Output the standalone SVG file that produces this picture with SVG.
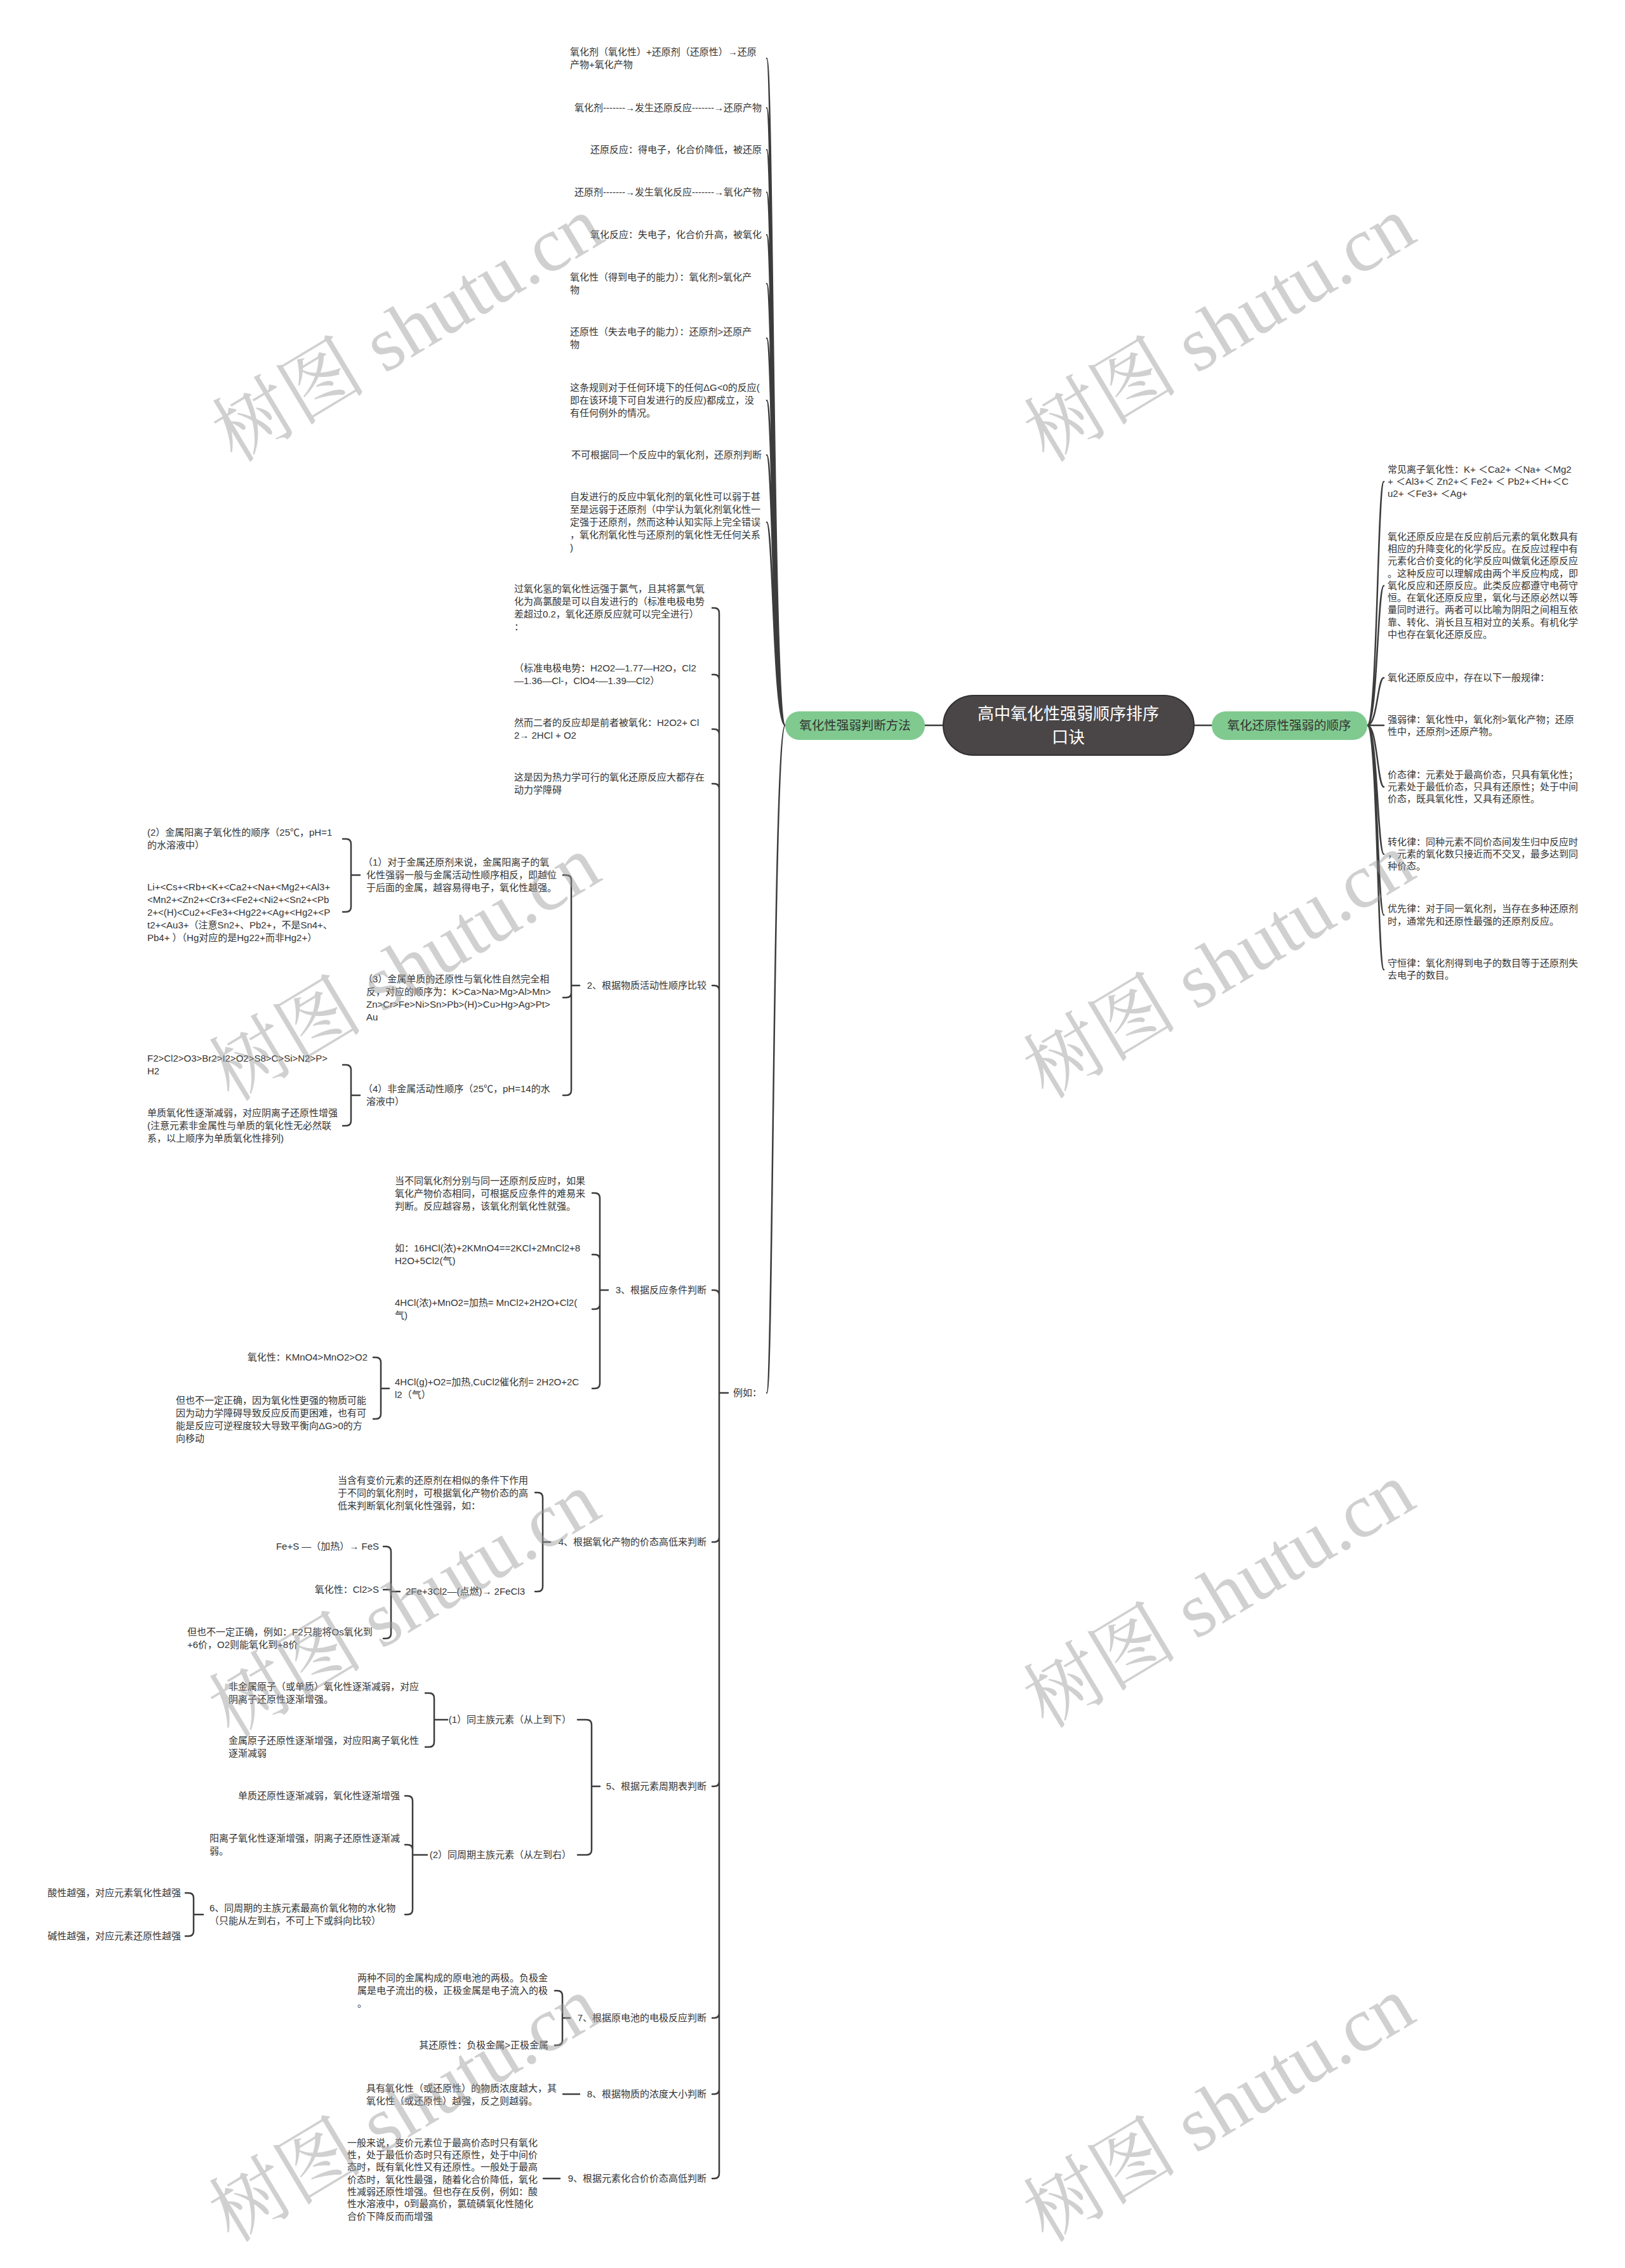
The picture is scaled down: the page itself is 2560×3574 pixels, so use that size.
<svg xmlns="http://www.w3.org/2000/svg" width="2560" height="3574" viewBox="0 0 2560 3574">
<style>
.t{font-family:"Liberation Sans","Noto Sans CJK SC",sans-serif;font-size:15px;fill:#333}
.e{text-anchor:end}
.c{fill:none;stroke:#3c3c3c;stroke-width:2.5;stroke-linecap:round}
.g{fill:#80ca90}
.gt{font-family:"Liberation Sans","Noto Sans CJK SC",sans-serif;font-size:19.5px;fill:#333;text-anchor:middle}
.wm{font-family:"Liberation Serif","Noto Serif CJK SC","Noto Sans CJK SC",serif;font-size:122px;fill:#999;opacity:0.45;text-anchor:middle}
</style>
<rect width="2560" height="3574" fill="#ffffff"/>
<g id="connectors">
<path class="c" d="M1457 1143H1486M1881 1143H1909"/>
<path class="c" d="M1237 1143C1218 1143 1218 92 1208 92M1237 1143C1218 1143 1218 170 1208 170M1237 1143C1218 1143 1218 236 1208 236M1237 1143C1218 1143 1218 303 1208 303M1237 1143C1218 1143 1218 370 1208 370M1237 1143C1218 1143 1218 447 1208 447M1237 1143C1218 1143 1218 533 1208 533M1237 1143C1218 1143 1218 631 1208 631M1237 1143C1218 1143 1218 717 1208 717M1237 1143C1218 1143 1218 823 1208 823M1237 1143C1218 1143 1218 2195 1208 2195"/>
<path class="c" d="M2154 1143C2170 1143 2170 759 2180 759M2154 1143C2170 1143 2170 923 2180 923M2154 1143C2170 1143 2170 1068 2180 1068M2154 1143H2180M2154 1143C2170 1143 2170 1240 2180 1240M2154 1143C2170 1143 2170 1346 2180 1346M2154 1143C2170 1143 2170 1442 2180 1442M2154 1143C2170 1143 2170 1528 2180 1528"/>
<path class="c" d="M1147 2195H1133V966Q1133 958 1125 958H1122M1133 1071Q1133 1063 1125 1063H1122M1133 1157Q1133 1149 1125 1149H1122M1133 1243Q1133 1235 1125 1235H1122M1133 1561Q1133 1553 1125 1553H1122M1133 2041Q1133 2033 1125 2033H1122M1133 2195V3425Q1133 3433 1125 3433H1122M1133 2422Q1133 2430 1125 2430H1122M1133 2807Q1133 2815 1125 2815H1122M1133 3172Q1133 3180 1125 3180H1122M1133 3292Q1133 3300 1125 3300H1122"/>
<path class="c" d="M913 1553H900V1387Q900 1379 892 1379H887M900 1553V1718Q900 1726 892 1726H887M900 1564Q900 1572 892 1572H887"/>
<path class="c" d="M567 1379H553V1330Q553 1322 545 1322H540M553 1379V1429Q553 1437 545 1437H540"/>
<path class="c" d="M567 1726H553V1686Q553 1678 545 1678H540M553 1726V1766Q553 1774 545 1774H540"/>
<path class="c" d="M958 2033H945V1888Q945 1880 937 1880H933M945 1985Q945 1977 937 1977H933M945 2033V2180Q945 2188 937 2188H933M945 2055Q945 2063 937 2063H933"/>
<path class="c" d="M613 2188H600V2147Q600 2139 592 2139H588M600 2188V2228Q600 2236 592 2236H588"/>
<path class="c" d="M867 2430H855V2360Q855 2352 847 2352H843M855 2430V2500Q855 2508 847 2508H843"/>
<path class="c" d="M630 2508H616V2445Q616 2437 608 2437H604M616 2505H604M616 2508V2574Q616 2582 608 2582H604"/>
<path class="c" d="M945 2815H932V2718Q932 2710 924 2710H910M932 2815V2915Q932 2923 924 2923H910"/>
<path class="c" d="M705 2710H684V2676Q684 2668 676 2668H670M684 2710V2745Q684 2753 676 2753H670"/>
<path class="c" d="M673 2923H650V2838Q650 2830 642 2830H638M650 2915Q650 2907 642 2907H638M650 2923V3009Q650 3017 642 3017H638"/>
<path class="c" d="M320 3017H305V2991Q305 2983 297 2983H292M305 3017V3043Q305 3051 297 3051H292"/>
<path class="c" d="M898 3180H886V3145Q886 3137 878 3137H874M886 3180V3215Q886 3223 878 3223H874"/>
<path class="c" d="M913 3300H887M882 3433H856"/>
</g>
<g id="root">
<rect x="1486" y="1096" width="395" height="94" rx="47" fill="#4a4647" stroke="#303030" stroke-width="2"/>
<text x="1683" y="1134" style="font-family:'Liberation Sans','Noto Sans CJK SC',sans-serif;font-size:26px;fill:#fff;text-anchor:middle">高中氧化性强弱顺序排序</text>
<text x="1683" y="1171" style="font-family:'Liberation Sans','Noto Sans CJK SC',sans-serif;font-size:26px;fill:#fff;text-anchor:middle">口诀</text>
</g>
<g id="left-main"><rect class="g" x="1237" y="1121" width="220" height="45" rx="22"/><text class="gt" x="1347" y="1150">氧化性强弱判断方法</text></g>
<g id="right-main"><rect class="g" x="1909" y="1121" width="245" height="45" rx="22"/><text class="gt" x="2031" y="1150">氧化还原性强弱的顺序</text></g>
<g id="t1"><text class="t"><tspan x="898" y="87">氧化剂（氧化性）+还原剂（还原性）→还原</tspan><tspan x="898" y="107">产物+氧化产物</tspan></text></g>
<g id="t2"><text class="t e" x="1200" y="175">氧化剂-------→发生还原反应-------→还原产物</text></g>
<g id="t3"><text class="t e" x="1200" y="241">还原反应：得电子，化合价降低，被还原</text></g>
<g id="t4"><text class="t e" x="1200" y="308">还原剂-------→发生氧化反应-------→氧化产物</text></g>
<g id="t5"><text class="t e" x="1200" y="375">氧化反应：失电子，化合价升高，被氧化</text></g>
<g id="t6"><text class="t"><tspan x="898" y="442">氧化性（得到电子的能力）：氧化剂&gt;氧化产</tspan><tspan x="898" y="462">物</tspan></text></g>
<g id="t7"><text class="t"><tspan x="898" y="528">还原性（失去电子的能力）：还原剂&gt;还原产</tspan><tspan x="898" y="548">物</tspan></text></g>
<g id="t8"><text class="t"><tspan x="898" y="616">这条规则对于任何环境下的任何ΔG&lt;0的反应(</tspan><tspan x="898" y="636">即在该环境下可自发进行的反应)都成立，没</tspan><tspan x="898" y="656">有任何例外的情况。</tspan></text></g>
<g id="t9"><text class="t e" x="1200" y="722">不可根据同一个反应中的氧化剂，还原剂判断</text></g>
<g id="t10"><text class="t"><tspan x="898" y="788">自发进行的反应中氧化剂的氧化性可以弱于甚</tspan><tspan x="898" y="808">至是远弱于还原剂（中学认为氧化剂氧化性一</tspan><tspan x="898" y="828">定强于还原剂，然而这种认知实际上完全错误</tspan><tspan x="898" y="848">，氧化剂氧化性与还原剂的氧化性无任何关系</tspan><tspan x="898" y="868">)</tspan></text></g>
<g id="eg"><text class="t" x="1155" y="2200">例如：</text></g>
<g id="a1"><text class="t"><tspan x="810" y="933">过氧化氢的氧化性远强于氯气，且其将氯气氧</tspan><tspan x="810" y="953">化为高氯酸是可以自发进行的（标准电极电势</tspan><tspan x="810" y="973">差超过0.2，氧化还原反应就可以完全进行）</tspan><tspan x="810" y="993">：</tspan></text></g>
<g id="a2"><text class="t"><tspan x="810" y="1058">（标准电极电势：H2O2—1.77—H2O，Cl2</tspan><tspan x="810" y="1078">—1.36—Cl-，ClO4-—1.39—Cl2）</tspan></text></g>
<g id="a3"><text class="t"><tspan x="810" y="1144">然而二者的反应却是前者被氧化：H2O2+ Cl</tspan><tspan x="810" y="1164">2→ 2HCl + O2</tspan></text></g>
<g id="a4"><text class="t"><tspan x="810" y="1230">这是因为热力学可行的氧化还原反应大都存在</tspan><tspan x="810" y="1250">动力学障碍</tspan></text></g>
<g id="b"><text class="t e" x="1113" y="1558">2、根据物质活动性顺序比较</text></g>
<g id="b3"><text class="t"><tspan x="572" y="1364">（1）对于金属还原剂来说，金属阳离子的氧</tspan><tspan x="577" y="1384">化性强弱一般与金属活动性顺序相反，即越位</tspan><tspan x="577" y="1404">于后面的金属，越容易得电子，氧化性越强。</tspan></text></g>
<g id="b1"><text class="t"><tspan x="232" y="1317">(2）金属阳离子氧化性的顺序（25℃，pH=1</tspan><tspan x="232" y="1337">的水溶液中）</tspan></text></g>
<g id="b2"><text class="t"><tspan x="232" y="1403">Li+&lt;Cs+&lt;Rb+&lt;K+&lt;Ca2+&lt;Na+&lt;Mg2+&lt;Al3+</tspan><tspan x="232" y="1423">&lt;Mn2+&lt;Zn2+&lt;Cr3+&lt;Fe2+&lt;Ni2+&lt;Sn2+&lt;Pb</tspan><tspan x="232" y="1443">2+&lt;(H)&lt;Cu2+&lt;Fe3+&lt;Hg22+&lt;Ag+&lt;Hg2+&lt;P</tspan><tspan x="232" y="1463">t2+&lt;Au3+（注意Sn2+、Pb2+，不是Sn4+、</tspan><tspan x="232" y="1483">Pb4+ ）（Hg对应的是Hg22+而非Hg2+）</tspan></text></g>
<g id="b4"><text class="t"><tspan x="572" y="1548">（3）金属单质的还原性与氧化性自然完全相</tspan><tspan x="577" y="1568">反，对应的顺序为：K&gt;Ca&gt;Na&gt;Mg&gt;Al&gt;Mn&gt;</tspan><tspan x="577" y="1588">Zn&gt;Cr&gt;Fe&gt;Ni&gt;Sn&gt;Pb&gt;(H)&gt;Cu&gt;Hg&gt;Ag&gt;Pt&gt;</tspan><tspan x="577" y="1608">Au</tspan></text></g>
<g id="b5"><text class="t"><tspan x="572" y="1721">（4）非金属活动性顺序（25℃，pH=14的水</tspan><tspan x="577" y="1741">溶液中）</tspan></text></g>
<g id="b6"><text class="t"><tspan x="232" y="1673">F2&gt;Cl2&gt;O3&gt;Br2&gt;I2&gt;O2&gt;S8&gt;C&gt;Si&gt;N2&gt;P&gt;</tspan><tspan x="232" y="1693">H2</tspan></text></g>
<g id="b7"><text class="t"><tspan x="232" y="1759">单质氧化性逐渐减弱，对应阴离子还原性增强</tspan><tspan x="232" y="1779">(注意元素非金属性与单质的氧化性无必然联</tspan><tspan x="232" y="1799">系，以上顺序为单质氧化性排列)</tspan></text></g>
<g id="c"><text class="t e" x="1113" y="2038">3、根据反应条件判断</text></g>
<g id="c1"><text class="t"><tspan x="622" y="1866">当不同氧化剂分别与同一还原剂反应时，如果</tspan><tspan x="622" y="1886">氧化产物价态相同，可根据反应条件的难易来</tspan><tspan x="622" y="1906">判断。反应越容易，该氧化剂氧化性就强。</tspan></text></g>
<g id="c2"><text class="t"><tspan x="622" y="1972">如：16HCl(浓)+2KMnO4==2KCl+2MnCl2+8</tspan><tspan x="622" y="1992">H2O+5Cl2(气)</tspan></text></g>
<g id="c3"><text class="t"><tspan x="622" y="2058">4HCl(浓)+MnO2=加热= MnCl2+2H2O+Cl2(</tspan><tspan x="622" y="2078">气)</tspan></text></g>
<g id="c4"><text class="t"><tspan x="622" y="2183">4HCl(g)+O2=加热,CuCl2催化剂= 2H2O+2C</tspan><tspan x="622" y="2203">l2（气）</tspan></text></g>
<g id="c4a"><text class="t e" x="579" y="2144">氧化性：KMnO4&gt;MnO2&gt;O2</text></g>
<g id="c4b"><text class="t"><tspan x="277" y="2212">但也不一定正确，因为氧化性更强的物质可能</tspan><tspan x="277" y="2232">因为动力学障碍导致反应反而更困难，也有可</tspan><tspan x="277" y="2252">能是反应可逆程度较大导致平衡向ΔG&gt;0的方</tspan><tspan x="277" y="2272">向移动</tspan></text></g>
<g id="d"><text class="t e" x="1113" y="2435">4、根据氧化产物的价态高低来判断</text></g>
<g id="d1"><text class="t"><tspan x="532" y="2338">当含有变价元素的还原剂在相似的条件下作用</tspan><tspan x="532" y="2358">于不同的氧化剂时，可根据氧化产物价态的高</tspan><tspan x="532" y="2378">低来判断氧化剂氧化性强弱，如：</tspan></text></g>
<g id="d2"><text class="t" x="639" y="2513">2Fe+3Cl2—(点燃)→ 2FeCl3</text></g>
<g id="d2a"><text class="t e" x="597" y="2442">Fe+S —（加热）→ FeS</text></g>
<g id="d2b"><text class="t e" x="597" y="2510">氧化性：Cl2&gt;S</text></g>
<g id="d2c"><text class="t"><tspan x="295" y="2577">但也不一定正确，例如：F2只能将Os氧化到</tspan><tspan x="295" y="2597">+6价，O2则能氧化到+8价</tspan></text></g>
<g id="e"><text class="t e" x="1113" y="2820">5、根据元素周期表判断</text></g>
<g id="e1"><text class="t e" x="900" y="2715">(1）同主族元素（从上到下）</text></g>
<g id="e2"><text class="t e" x="900" y="2928">(2）同周期主族元素（从左到右）</text></g>
<g id="e1a"><text class="t"><tspan x="360" y="2663">非金属原子（或单质）氧化性逐渐减弱，对应</tspan><tspan x="360" y="2683">阴离子还原性逐渐增强。</tspan></text></g>
<g id="e1b"><text class="t"><tspan x="360" y="2748">金属原子还原性逐渐增强，对应阳离子氧化性</tspan><tspan x="360" y="2768">逐渐减弱</tspan></text></g>
<g id="e2a"><text class="t e" x="630" y="2835">单质还原性逐渐减弱，氧化性逐渐增强</text></g>
<g id="e2b"><text class="t"><tspan x="330" y="2902">阳离子氧化性逐渐增强，阴离子还原性逐渐减</tspan><tspan x="330" y="2922">弱。</tspan></text></g>
<g id="e6"><text class="t"><tspan x="330" y="3012">6、同周期的主族元素最高价氧化物的水化物</tspan><tspan x="330" y="3032">（只能从左到右，不可上下或斜向比较）</tspan></text></g>
<g id="e6a"><text class="t e" x="285" y="2988">酸性越强，对应元素氧化性越强</text></g>
<g id="e6b"><text class="t e" x="285" y="3056">碱性越强，对应元素还原性越强</text></g>
<g id="f"><text class="t e" x="1113" y="3185">7、根据原电池的电极反应判断</text></g>
<g id="f1"><text class="t"><tspan x="563" y="3122">两种不同的金属构成的原电池的两极。负极金</tspan><tspan x="563" y="3142">属是电子流出的极，正极金属是电子流入的极</tspan><tspan x="563" y="3162">。</tspan></text></g>
<g id="f2"><text class="t e" x="864" y="3228">其还原性：负极金属&gt;正极金属</text></g>
<g id="g8"><text class="t e" x="1113" y="3305">8、根据物质的浓度大小判断</text></g>
<g id="g1"><text class="t"><tspan x="577" y="3296">具有氧化性（或还原性）的物质浓度越大，其</tspan><tspan x="577" y="3316">氧化性（或还原性）越强，反之则越弱。</tspan></text></g>
<g id="h"><text class="t e" x="1113" y="3438">9、根据元素化合价价态高低判断</text></g>
<g id="h1"><text class="t"><tspan x="547" y="3382">一般来说，变价元素位于最高价态时只有氧化</tspan><tspan x="547" y="3401">性，处于最低价态时只有还原性，处于中间价</tspan><tspan x="547" y="3420">态时，既有氧化性又有还原性。一般处于最高</tspan><tspan x="547" y="3440">价态时，氧化性最强，随着化合价降低，氧化</tspan><tspan x="547" y="3459">性减弱还原性增强。但也存在反例，例如：酸</tspan><tspan x="547" y="3478">性水溶液中，0到最高价，氯硫磷氧化性随化</tspan><tspan x="547" y="3498">合价下降反而而增强</tspan></text></g>
<g id="r1"><text class="t"><tspan x="2186" y="745">常见离子氧化性：K+ ＜Ca2+ ＜Na+ ＜Mg2</tspan><tspan x="2186" y="764">+ ＜Al3+＜ Zn2+＜ Fe2+ ＜ Pb2+＜H+＜C</tspan><tspan x="2186" y="783">u2+ ＜Fe3+ ＜Ag+</tspan></text></g>
<g id="r2"><text class="t"><tspan x="2186" y="851">氧化还原反应是在反应前后元素的氧化数具有</tspan><tspan x="2186" y="870">相应的升降变化的化学反应。在反应过程中有</tspan><tspan x="2186" y="889">元素化合价变化的化学反应叫做氧化还原反应</tspan><tspan x="2186" y="909">。这种反应可以理解成由两个半反应构成，即</tspan><tspan x="2186" y="928">氧化反应和还原反应。此类反应都遵守电荷守</tspan><tspan x="2186" y="947">恒。在氧化还原反应里，氧化与还原必然以等</tspan><tspan x="2186" y="966">量同时进行。两者可以比喻为阴阳之间相互依</tspan><tspan x="2186" y="986">靠、转化、消长且互相对立的关系。有机化学</tspan><tspan x="2186" y="1005">中也存在氧化还原反应。</tspan></text></g>
<g id="r3"><text class="t" x="2186" y="1073">氧化还原反应中，存在以下一般规律：</text></g>
<g id="r4"><text class="t"><tspan x="2186" y="1139">强弱律：氧化性中，氧化剂&gt;氧化产物；还原</tspan><tspan x="2186" y="1158">性中，还原剂&gt;还原产物。</tspan></text></g>
<g id="r5"><text class="t"><tspan x="2186" y="1226">价态律：元素处于最高价态，只具有氧化性；</tspan><tspan x="2186" y="1245">元素处于最低价态，只具有还原性；处于中间</tspan><tspan x="2186" y="1264">价态，既具氧化性，又具有还原性。</tspan></text></g>
<g id="r6"><text class="t"><tspan x="2186" y="1332">转化律：同种元素不同价态间发生归中反应时</tspan><tspan x="2186" y="1351">，元素的氧化数只接近而不交叉，最多达到同</tspan><tspan x="2186" y="1370">种价态。</tspan></text></g>
<g id="r7"><text class="t"><tspan x="2186" y="1437">优先律：对于同一氧化剂，当存在多种还原剂</tspan><tspan x="2186" y="1457">时，通常先和还原性最强的还原剂反应。</tspan></text></g>
<g id="r8"><text class="t"><tspan x="2186" y="1523">守恒律：氧化剂得到电子的数目等于还原剂失</tspan><tspan x="2186" y="1542">去电子的数目。</tspan></text></g>
<g id="watermark">
<text class="wm" transform="translate(643 520) rotate(-31)" y="40">树图 shutu.cn</text>
<text class="wm" transform="translate(1922 520) rotate(-31)" y="40">树图 shutu.cn</text>
<text class="wm" transform="translate(638 1527) rotate(-31)" y="40">树图 shutu.cn</text>
<text class="wm" transform="translate(1921 1523) rotate(-31)" y="40">树图 shutu.cn</text>
<text class="wm" transform="translate(638 2530) rotate(-31)" y="40">树图 shutu.cn</text>
<text class="wm" transform="translate(1921 2515) rotate(-31)" y="40">树图 shutu.cn</text>
<text class="wm" transform="translate(638 3325) rotate(-31)" y="40">树图 shutu.cn</text>
<text class="wm" transform="translate(1921 3325) rotate(-31)" y="40">树图 shutu.cn</text>
</g>
</svg>
